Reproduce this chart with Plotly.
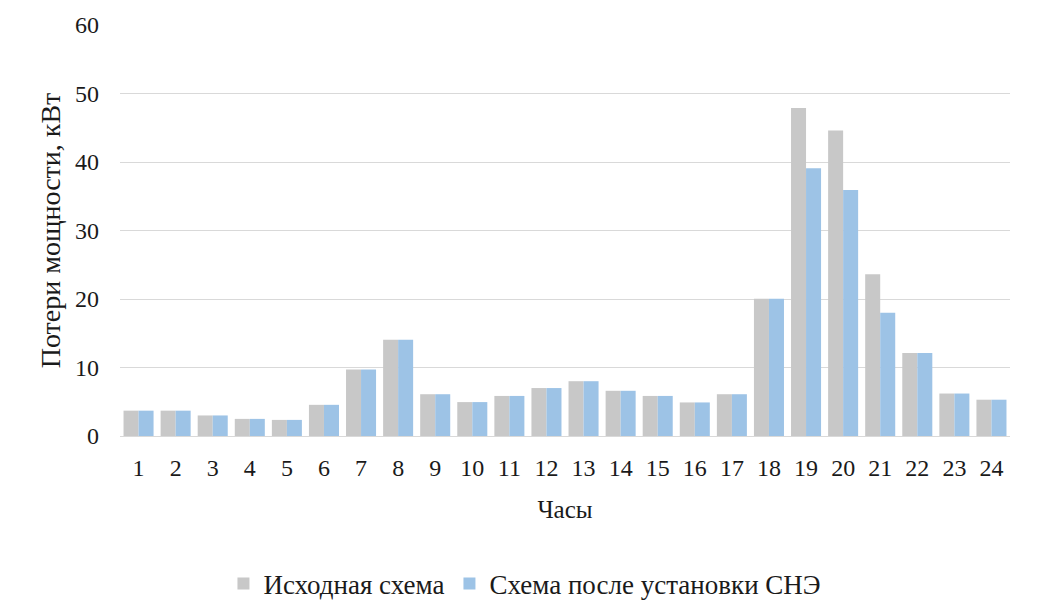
import plotly.graph_objects as go

hours = [str(h) for h in range(1, 25)]
base_losses = [3.7, 3.7, 3.0, 2.5, 2.35, 4.55, 9.7, 14.05, 6.1, 4.95, 5.85, 7.0,
               8.0, 6.6, 5.85, 4.9, 6.1, 20.05, 47.9, 44.6, 23.6, 12.1, 6.2, 5.3]
sne_losses = [3.7, 3.7, 3.0, 2.5, 2.35, 4.55, 9.7, 14.05, 6.1, 4.95, 5.85, 7.0,
              8.0, 6.6, 5.85, 4.9, 6.1, 20.05, 39.1, 35.9, 18.0, 12.1, 6.2, 5.3]
series_names = ["Исходная схема", "Схема после установки СНЭ"]

font_family = "Liberation Serif, Times New Roman, serif"

fig = go.Figure()
fig.add_trace(go.Bar(x=hours, y=base_losses, name=series_names[0],
                     marker=dict(color="#C8C8C8", line=dict(width=0))))
fig.add_trace(go.Bar(x=hours, y=sne_losses, name=series_names[1],
                     marker=dict(color="#9DC3E6", line=dict(width=0))))

fig.update_layout(
    width=1037, height=614,
    margin=dict(l=112, r=35, t=17, b=186),
    paper_bgcolor="white", plot_bgcolor="white",
    font=dict(family=font_family, size=24, color="#1a1a1a"),
    barmode="group", bargap=0.19, bargroupgap=0,
    showlegend=True,
    legend=dict(orientation="h", x=0.455, xanchor="center",
                y=-0.36, yanchor="middle",
                font=dict(size=27), itemwidth=30, traceorder="normal"),
)
fig.update_xaxes(
    title=dict(text="Часы", font=dict(size=25), standoff=20),
    tickfont=dict(size=24), tickmode="array", tickvals=hours, ticktext=hours,
    showline=True, linecolor="#D9D9D9", linewidth=1, automargin=False,
    showgrid=False, ticks="", ticklabelstandoff=10,
)
fig.update_yaxes(
    title=dict(text="Потери мощности, кВт", font=dict(size=28), standoff=6),
    tickfont=dict(size=24),
    range=[0, 60], dtick=10, showgrid=True, gridcolor="#D9D9D9", gridwidth=1,
    zeroline=False, showline=False, ticks="", ticklabelstandoff=20, automargin=False,
)

fig.write_html("out.html")
